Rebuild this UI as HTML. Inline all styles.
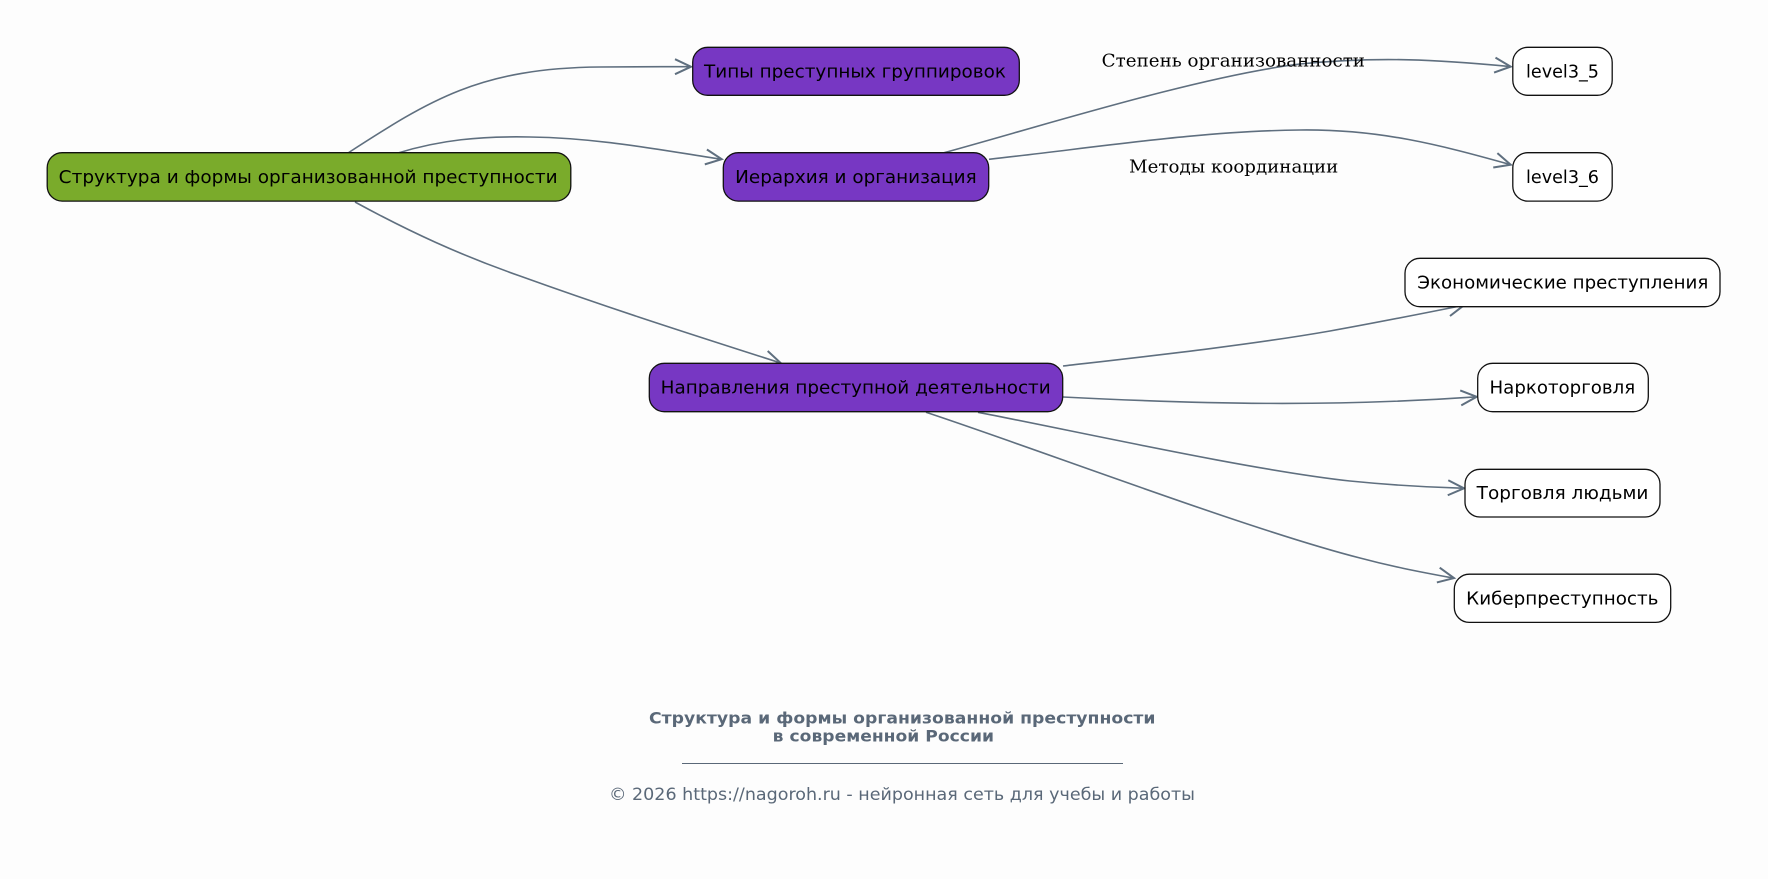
<!DOCTYPE html>
<html>
<head>
<meta charset="utf-8">
<style>
  html, body { margin: 0; padding: 0; background: #fdfdfd; }
  svg { display: block; }
  .n { font-family: "DejaVu Sans", "Liberation Sans", sans-serif; font-size: 17.6px; fill: #000; }
  .l { font-family: "DejaVu Serif", "Liberation Serif", serif; font-size: 18px; fill: #000; }
  .e { fill: none; stroke: #5f6f7f; stroke-width: 1.6; }
  .a { fill: none; stroke: #5f6f7f; stroke-width: 2; stroke-linejoin: miter; stroke-linecap: butt; }
  .f { font-family: "DejaVu Sans", "Liberation Sans", sans-serif; fill: #5a6878; }
</style>
</head>
<body>
<svg width="1768" height="879" viewBox="0 0 1768 879" xmlns="http://www.w3.org/2000/svg">
  <rect x="0" y="0" width="1768" height="879" fill="#fdfdfd"/>

  <!-- Edges -->
  <path class="e" d="M348,153 C430,100 480,68 600,67 C640,66.6 660,66.7 690,66.7"/>
  <polyline class="a" transform="translate(691,66.7)" points="-16,-7.5 0,0 -16,7.5"/>

  <path class="e" d="M398,153 C440,140 480,136 530,137 C600,138 660,150 720,159"/>
  <polyline class="a" transform="translate(721.7,159.2) rotate(8.1)" points="-16,-7.5 0,0 -16,7.5"/>

  <path class="e" d="M355,202 C410,232 460,255 520,276 C620,312 700,337 779,362.5"/>
  <polyline class="a" transform="translate(780.7,363) rotate(17.5)" points="-16,-7.5 0,0 -16,7.5"/>

  <path class="e" d="M943,153 C1035,128 1200,76 1300,64 C1380,56 1440,60 1509,66.4"/>
  <polyline class="a" transform="translate(1510.7,66.6) rotate(5.5)" points="-16,-7.5 0,0 -16,7.5"/>

  <path class="e" d="M989,159.3 C1100,147 1200,131 1300,130 C1380,129 1440,145 1509,164.2"/>
  <polyline class="a" transform="translate(1510.7,164.7) rotate(16)" points="-16,-7.5 0,0 -16,7.5"/>

  <path class="e" d="M1063,366 C1150,356 1250,345 1330,331 C1380,322 1420,314 1462,305.6"/>
  <polyline class="a" transform="translate(1464,305.2) rotate(-12.5)" points="-16,-7.5 0,0 -16,7.5"/>

  <path class="e" d="M1063,397 C1200,404 1330,407 1475,396.9"/>
  <polyline class="a" transform="translate(1476.7,396.8) rotate(-4)" points="-16,-7.5 0,0 -16,7.5"/>

  <path class="e" d="M978,412.3 C1080,432 1250,470 1350,481 C1390,485 1420,487 1462,488.2"/>
  <polyline class="a" transform="translate(1464,488.3) rotate(2)" points="-16,-7.5 0,0 -16,7.5"/>

  <path class="e" d="M926,412.3 C1040,450 1250,530 1360,558 C1390,566 1415,571 1452,577.8"/>
  <polyline class="a" transform="translate(1454,578.1) rotate(11)" points="-16,-7.5 0,0 -16,7.5"/>

  <!-- Edge labels -->
  <text class="l" x="1101.7" y="66.7" textLength="263.3" lengthAdjust="spacingAndGlyphs">Степень организованности</text>
  <text class="l" x="1129" y="172.7" textLength="209.3" lengthAdjust="spacingAndGlyphs">Методы координации</text>

  <!-- Nodes -->
  <rect x="47.2" y="152.7" width="523.6" height="48.4" rx="15" ry="15" fill="#7aab2b" stroke="#111" stroke-width="1.3"/>
  <text class="n" x="58.7" y="183" textLength="499" lengthAdjust="spacingAndGlyphs">Структура и формы организованной преступности</text>

  <rect x="692.7" y="47.3" width="326.6" height="48" rx="15" ry="15" fill="#7737c3" stroke="#111" stroke-width="1.3"/>
  <text class="n" x="704" y="77.5" textLength="302" lengthAdjust="spacingAndGlyphs">Типы преступных группировок</text>

  <rect x="723.3" y="152.7" width="265.4" height="48.4" rx="15" ry="15" fill="#7737c3" stroke="#111" stroke-width="1.3"/>
  <text class="n" x="735.2" y="183" textLength="241.5" lengthAdjust="spacingAndGlyphs">Иерархия и организация</text>

  <rect x="649.3" y="363.3" width="413.4" height="48.4" rx="15" ry="15" fill="#7737c3" stroke="#111" stroke-width="1.3"/>
  <text class="n" x="660.7" y="393.6" textLength="390" lengthAdjust="spacingAndGlyphs">Направления преступной деятельности</text>

  <rect x="1512.8" y="47.3" width="99.4" height="48" rx="15" ry="15" fill="#ffffff" stroke="#111" stroke-width="1.3"/>
  <text class="n" x="1526" y="77.5" textLength="73" lengthAdjust="spacingAndGlyphs">level3_5</text>

  <rect x="1512.8" y="152.7" width="99.4" height="48.4" rx="15" ry="15" fill="#ffffff" stroke="#111" stroke-width="1.3"/>
  <text class="n" x="1526" y="183" textLength="73" lengthAdjust="spacingAndGlyphs">level3_6</text>

  <rect x="1405" y="258.3" width="315" height="48.4" rx="15" ry="15" fill="#ffffff" stroke="#111" stroke-width="1.3"/>
  <text class="n" x="1417.3" y="288.6" textLength="291" lengthAdjust="spacingAndGlyphs">Экономические преступления</text>

  <rect x="1477.7" y="363.3" width="170.6" height="48.4" rx="15" ry="15" fill="#ffffff" stroke="#111" stroke-width="1.3"/>
  <text class="n" x="1489.5" y="393.6" textLength="145.7" lengthAdjust="spacingAndGlyphs">Наркоторговля</text>

  <rect x="1465" y="469.3" width="195" height="47.7" rx="15" ry="15" fill="#ffffff" stroke="#111" stroke-width="1.3"/>
  <text class="n" x="1476.7" y="499.2" textLength="171.7" lengthAdjust="spacingAndGlyphs">Торговля людьми</text>

  <rect x="1454.3" y="574.2" width="216.4" height="48.2" rx="15" ry="15" fill="#ffffff" stroke="#111" stroke-width="1.3"/>
  <text class="n" x="1466.2" y="604.3" textLength="192.3" lengthAdjust="spacingAndGlyphs">Киберпреступность</text>

  <!-- Footer -->
  <text class="f" x="649" y="723.3" font-size="16" font-weight="bold" textLength="506.5" lengthAdjust="spacingAndGlyphs">Структура и формы организованной преступности</text>
  <text class="f" x="772.7" y="741.7" font-size="16" font-weight="bold" textLength="221.3" lengthAdjust="spacingAndGlyphs">в современной России</text>
  <line x1="682" y1="763.5" x2="1123" y2="763.5" stroke="#5a6878" stroke-width="1"/>
  <text class="f" x="609" y="800" font-size="16.5" textLength="586" lengthAdjust="spacingAndGlyphs">© 2026 https://nagoroh.ru - нейронная сеть для учебы и работы</text>
</svg>
</body>
</html>
